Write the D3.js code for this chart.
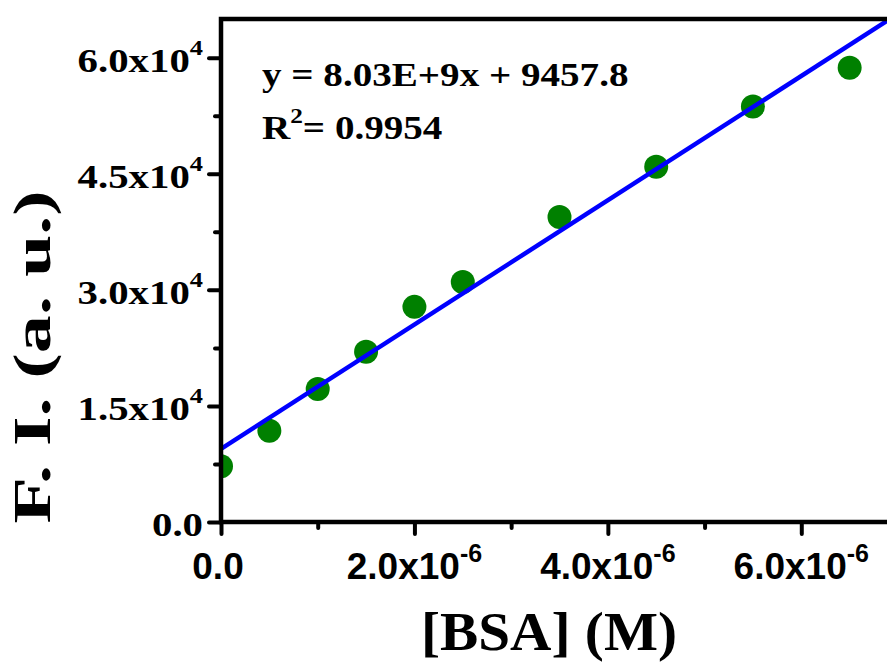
<!DOCTYPE html>
<html>
<head>
<meta charset="utf-8">
<script src="https://cdn.jsdelivr.net/npm/d3@7"></script>
<style>
  body { margin: 0; background: #fff; }
</style>
</head>
<body>
<svg id="chart"></svg>
<script>
// data
var concBSA = [0, 0.5e-6, 1.0e-6, 1.5e-6, 2.0e-6, 2.5e-6, 3.5e-6, 4.5e-6, 5.5e-6, 6.5e-6];
var fluorescence = [7200, 11800, 17200, 22000, 27800, 31000, 39400, 45900, 53700, 58700];
var fitSlope = 8.03e9;
var fitIntercept = 9457.8;
var fitText = ["y = 8.03E+9x + 9457.8", "= 0.9954"];

var yTicks = [0, 15000, 30000, 45000, 60000];
var yMinor = [7500, 22500, 37500, 52500];
var yTickMantissa = ["0.0", "1.5", "3.0", "4.5", "6.0"];
var yTickExp = ["", "4", "4", "4", "4"];

var xTicks = [0, 2e-6, 4e-6, 6e-6];
var xMinor = [1e-6, 3e-6, 5e-6];
var xTickMantissa = ["0.0", "2.0", "4.0", "6.0"];
var xTickExp = ["", "-6", "-6", "-6"];

var outerWidth = 887;
var outerHeight = 664;
var margin = { top: 19, left: 221, right: 0, bottom: 142 };
var width = 677;
var height = outerHeight - margin.top - margin.bottom;

var serif = "'Liberation Serif', 'Times New Roman', serif";
var sans = "'Liberation Sans', Arial, sans-serif";

var svg = d3.select("#chart").attr("width", outerWidth).attr("height", outerHeight);

var x = d3.scaleLinear().domain([0, 7e-6]).range([margin.left, margin.left + width]);
var y = d3.scaleLinear().domain([0, 65000]).range([margin.top + height, margin.top]);

svg
  .append("defs")
  .append("clipPath")
  .attr("id", "plotclip")
  .append("rect")
  .attr("x", x(0))
  .attr("y", y(65000))
  .attr("width", x(7e-6) - x(0))
  .attr("height", y(0) - y(65000));

var plot = svg.append("g").attr("clip-path", "url(#plotclip)");

// points
plot
  .selectAll("circle")
  .data(concBSA)
  .enter()
  .append("circle")
  .attr("cx", (d) => x(d))
  .attr("cy", (d, i) => y(fluorescence[i]))
  .attr("r", 12)
  .style("fill", "#008000");

// linear fit
var fitX = [0, 7e-6];
plot
  .append("path")
  .datum(fitX)
  .attr(
    "d",
    d3
      .line()
      .x((d) => x(d))
      .y((d) => y(fitSlope * d + fitIntercept))
  )
  .style("stroke", "#0000ff")
  .style("stroke-width", 4.5)
  .style("fill", "none");

// frame
svg
  .append("rect")
  .attr("x", x(0))
  .attr("y", y(65000))
  .attr("width", x(7e-6) - x(0))
  .attr("height", y(0) - y(65000))
  .style("fill", "none")
  .style("stroke", "#000")
  .style("stroke-width", 4.5);

function styleAxis(g) {
  g.select(".domain").remove();
  g.selectAll(".tick line").style("stroke", "#000").style("stroke-width", 4).style("stroke-linecap", "round");
}

// y axis ticks
svg
  .append("g")
  .attr("transform", `translate(${x(0)},0)`)
  .call(d3.axisLeft(y).tickValues(yTicks).tickSize(12).tickFormat(""))
  .call(styleAxis);
svg
  .append("g")
  .attr("transform", `translate(${x(0)},0)`)
  .call(d3.axisLeft(y).tickValues(yMinor).tickSize(6).tickFormat(""))
  .call(styleAxis);

// x axis ticks
svg
  .append("g")
  .attr("transform", `translate(0,${y(0)})`)
  .call(d3.axisBottom(x).tickValues(xTicks).tickSize(12).tickFormat(""))
  .call(styleAxis);
svg
  .append("g")
  .attr("transform", `translate(0,${y(0)})`)
  .call(d3.axisBottom(x).tickValues(xMinor).tickSize(6).tickFormat(""))
  .call(styleAxis);

// y tick labels
yTicks.forEach((v, i) => {
  var t = svg
    .append("text")
    .attr("transform", `translate(${x(0) - 18},${y(v) + 14}) scale(1.2,1)`)
    .style("text-anchor", "end")
    .style("font-family", serif)
    .style("font-weight", "bold")
    .style("font-size", "34px");
  if (yTickExp[i] == "") {
    t.text(yTickMantissa[i]);
  } else {
    t.append("tspan").text(yTickMantissa[i] + "x10");
    t.append("tspan").attr("dy", -17).style("font-size", "22px").text(yTickExp[i]);
  }
});

// x tick labels
xTicks.forEach((v, i) => {
  var t = svg
    .append("text")
    .attr("x", x(v))
    .attr("y", y(0) + 57)
    .style("text-anchor", "middle")
    .style("font-family", sans)
    .style("font-weight", "bold")
    .style("font-size", "37px");
  if (xTickExp[i] == "") {
    t.attr("x", x(v) - 3).text(xTickMantissa[i]);
  } else {
    t.append("tspan").text(xTickMantissa[i] + "x10");
    t.append("tspan").attr("dy", -17).style("font-size", "25px").text(xTickExp[i]);
  }
});

// fit equation
svg
  .append("text")
  .attr("transform", "translate(262,86) scale(1.15,1)")
  .style("font-family", serif)
  .style("font-weight", "bold")
  .style("font-size", "34px")
  .text(fitText[0]);
var r2 = svg
  .append("text")
  .attr("transform", "translate(262,139) scale(1.15,1)")
  .style("font-family", serif)
  .style("font-weight", "bold")
  .style("font-size", "34px");
r2.append("tspan").text("R");
r2.append("tspan").attr("dy", -16).style("font-size", "22px").text("2");
r2.append("tspan").attr("dy", 16).text(fitText[1]);

// axis titles
svg
  .append("text")
  .attr("x", 549)
  .attr("y", 650)
  .attr("textLength", 256)
  .attr("lengthAdjust", "spacingAndGlyphs")
  .style("text-anchor", "middle")
  .style("font-family", serif)
  .style("font-weight", "bold")
  .style("font-size", "54px")
  .text("[BSA] (M)");

svg
  .append("text")
  .attr("transform", "translate(50,357) rotate(-90)")
  .attr("textLength", 333)
  .attr("lengthAdjust", "spacingAndGlyphs")
  .style("text-anchor", "middle")
  .style("font-family", serif)
  .style("font-weight", "bold")
  .style("font-size", "53px")
  .text("F. I. (a. u.)");
</script>
</body>
</html>
